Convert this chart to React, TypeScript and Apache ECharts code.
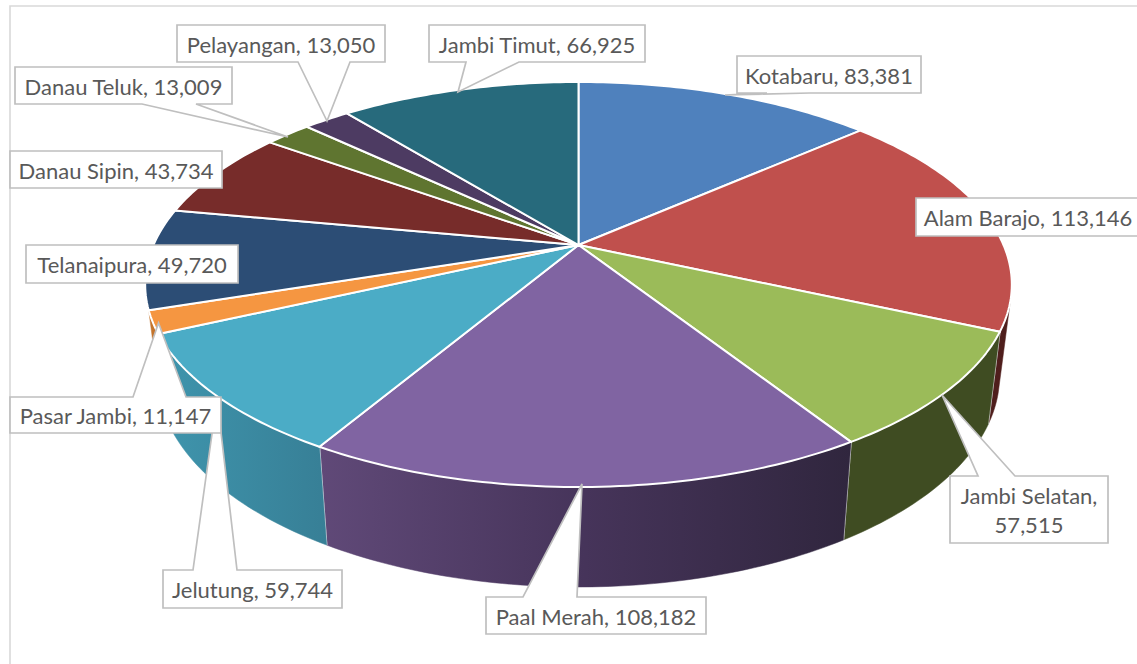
import React, { useEffect, useRef } from "react";
import * as echarts from "echarts";

const categories = ["Kotabaru", "Alam Barajo", "Jambi Selatan", "Paal Merah", "Jelutung", "Pasar Jambi", "Telanaipura", "Danau Sipin", "Danau Teluk", "Pelayangan", "Jambi Timut"];
const values = [83381, 113146, 57515, 108182, 59744, 11147, 49720, 43734, 13009, 13050, 66925];
const topColors = ["#4F81BD", "#C0504D", "#9BBB59", "#8064A2", "#4BACC6", "#F59641", "#2C4D75", "#772C2A", "#5F7530", "#4D3B62", "#276A7C"];
const wallStops: string[][] = [
  ["#2C4D75", "#2C4D75"],
  ["#4F1E1C", "#4F1E1C"],
  ["#3F4C22", "#3F4C22"],
  ["#604978", "#46345A", "#30263E"],
  ["#3F95AD", "#377F96"],
  ["#C4742C", "#C4742C"],
  ["#1C3350", "#1C3350"],
  ["#4F1E1C", "#4F1E1C"],
  ["#3F4C22", "#3F4C22"],
  ["#30263E", "#30263E"],
  ["#1A4653", "#1A4653"],
];

// Projection of the tilted pie onto the page
const CX = 578.5, CY = 245, A = 425, B = 194.8, P = 0.195;
const SHRINK = 0.972, DEPTH = 88.7, DEPTH_Q = 0.113;
const total = values.reduce((s, v) => s + v, 0);
const startAngle = (i: number) => (values.slice(0, i).reduce((s, v) => s + v, 0) / total) * 360;
const WALL_FROM = 106, WALL_TO = startAngle(6);

const rim = (deg: number): [number, number] => {
  const r = (deg * Math.PI) / 180, u = Math.sin(r), v = -Math.cos(r), d = 1 - P * v;
  return [CX + (A * u) / d, CY + (B * v) / d];
};
const floorRim = (deg: number): [number, number] => {
  const [x, y] = rim(deg);
  const v = -Math.cos((deg * Math.PI) / 180);
  return [CX + (x - CX) * SHRINK, y + DEPTH / (1 - DEPTH_Q * v)];
};
const sweep = (from: number, to: number): number[] => {
  const out: number[] = [];
  const n = Math.max(2, Math.ceil(to - from));
  for (let i = 0; i <= n; i++) out.push(from + ((to - from) * i) / n);
  return out;
};

type Callout = { name: string; box: [number, number, number, number]; side?: "top" | "bottom"; wedge?: [number, number, number, number]; lines?: boolean };
// drawn in this order, later callouts cover earlier ones
const callouts: Callout[] = [
  { name: "Kotabaru", box: [737, 56, 184, 37], side: "bottom", wedge: [767, 810, 725, 95] },
  { name: "Alam Barajo", box: [916, 198, 224, 38] },
  { name: "Jambi Selatan", box: [950, 476, 158, 67], side: "top", wedge: [978, 1015, 942, 395], lines: true },
  { name: "Paal Merah", box: [486, 597, 220, 37], side: "top", wedge: [523, 577, 582, 484] },
  { name: "Jelutung", box: [163, 570, 179, 38], side: "top", wedge: [193, 237, 217, 398] },
  { name: "Pasar Jambi", box: [10, 397, 211, 36], side: "top", wedge: [133, 186, 158.5, 323] },
  { name: "Telanaipura", box: [26, 245, 212, 38] },
  { name: "Danau Sipin", box: [10, 151, 212, 37] },
  { name: "Danau Teluk", box: [15, 67, 217, 37], side: "bottom", wedge: [142, 196, 288, 137] },
  { name: "Pelayangan", box: [177, 25, 208, 37], side: "bottom", wedge: [298, 350, 327, 121] },
  { name: "Jambi Timut", box: [429, 25, 216, 37], side: "bottom", wedge: [466, 519, 458, 92] },
];

const calloutPoints = (c: Callout): number[][] => {
  const [x, y, w, h] = c.box;
  const pts: number[][] = [[x, y]];
  if (c.side === "top" && c.wedge) pts.push([c.wedge[0], y], [c.wedge[2], c.wedge[3]], [c.wedge[1], y]);
  pts.push([x + w, y], [x + w, y + h]);
  if (c.side === "bottom" && c.wedge) pts.push([c.wedge[1], y + h], [c.wedge[2], c.wedge[3]], [c.wedge[0], y + h]);
  pts.push([x, y + h]);
  return pts;
};

const labelText = (name: string, twoLines?: boolean) => {
  const value = values[categories.indexOf(name)].toLocaleString("en-US");
  return `${name},${twoLines ? "\n" : " "}${value}`;
};

const renderWall = (params: any, api: any) => {
  const i = params.dataIndex;
  const a0 = startAngle(i);
  const a1 = a0 + (api.value(0) / total) * 360;
  const from = Math.max(a0, WALL_FROM), to = Math.min(a1, WALL_TO);
  if (to <= from + 0.01) return { type: "group", children: [] };
  const angles = sweep(from, to);
  const stops = wallStops[i];
  const fill = new echarts.graphic.LinearGradient(0, 0, 1, 0, stops.map((color, k) => ({ offset: k / (stops.length - 1), color })));
  const children: any[] = [
    { type: "polygon", shape: { points: [...angles.map(rim), ...angles.slice().reverse().map(floorRim)] }, style: { fill, stroke: fill, lineWidth: 0.5 } },
  ];
  if (a1 < WALL_TO - 0.5) {
    const p = rim(a1), q = floorRim(a1);
    children.push({ type: "line", shape: { x1: p[0], y1: p[1], x2: q[0], y2: q[1] }, style: { stroke: "#E4E4E8", lineWidth: 1.6 } });
  }
  return { type: "group", children };
};

const renderTop = (params: any, api: any) => {
  const i = params.dataIndex;
  const a0 = startAngle(i);
  const a1 = a0 + (api.value(0) / total) * 360;
  return {
    type: "polygon",
    shape: { points: [[CX, CY], ...sweep(a0, a1).map(rim)] },
    style: { fill: topColors[i], stroke: "#FFFFFF", lineWidth: 2, lineJoin: "round" },
  };
};

export default function App() {
  const ref = useRef<HTMLDivElement>(null);
  useEffect(() => {
    document.body.style.margin = "0";
    const chart = echarts.init(ref.current!, undefined, { renderer: "svg" });
    const graphic: any[] = [
      { type: "rect", z: 0, silent: true, shape: { x: 10, y: 6, width: 1300, height: 900 }, style: { fill: "none", stroke: "#D9D9D9", lineWidth: 1.6 } },
    ];
    callouts.forEach((c, k) => {
      const [x, y, w, h] = c.box;
      graphic.push({ type: "polygon", z: 20 + k * 2, shape: { points: calloutPoints(c) }, style: { fill: "#FFFFFF", stroke: "#BFBFBF", lineWidth: 1.7 } });
      graphic.push({
        type: "text", z: 21 + k * 2, x: x + w / 2, y: y + h / 2 + 0.5,
        style: { text: labelText(c.name, c.lines), fill: "#595959", fontFamily: "Lato", fontSize: 22, align: "center", verticalAlign: "middle", lineHeight: 29 },
      });
    });
    chart.setOption({
      animation: false,
      backgroundColor: "#FFFFFF",
      graphic,
      series: [
        { type: "custom", coordinateSystem: "none", z: 5, silent: true, renderItem: renderWall, data: values },
        { type: "custom", coordinateSystem: "none", z: 6, silent: true, renderItem: renderTop, data: values },
      ],
    });
    return () => chart.dispose();
  }, []);
  return <div ref={ref} style={{ width: 1137, height: 664 }} />;
}
